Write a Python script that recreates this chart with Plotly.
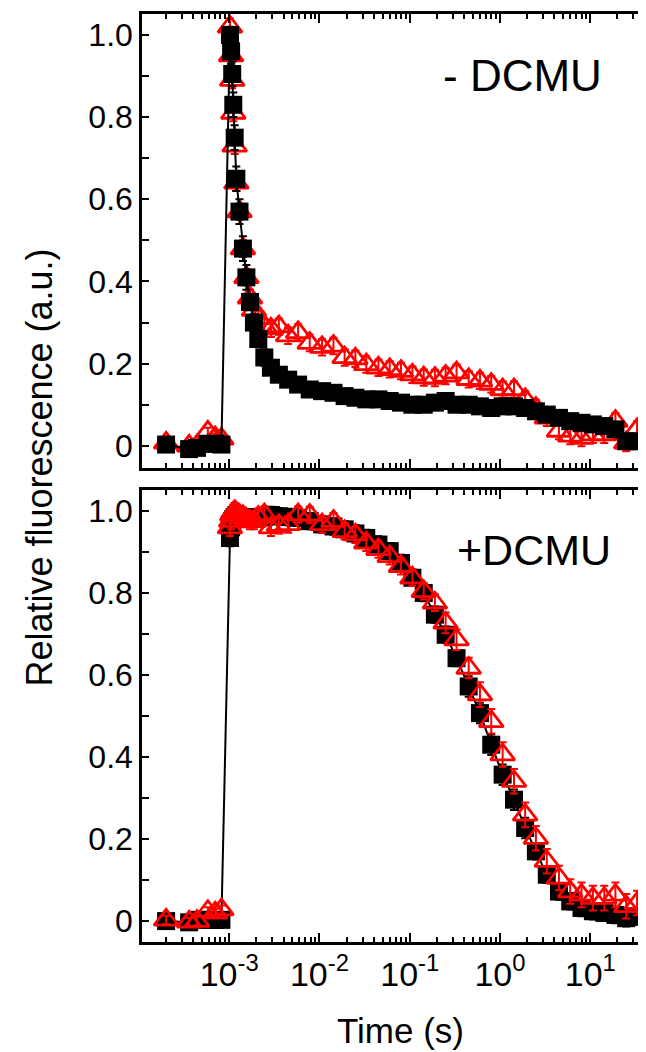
import plotly.graph_objects as go

# ---------------- data ----------------
time_s = [2.0e-4, 3.6e-4, 4.4e-4, 5.8e-4, 7.0e-4, 8.2e-4,
          1.02e-3, 1.05e-3, 1.08e-3, 1.11e-3, 1.15e-3, 1.20e-3, 1.30e-3, 1.42e-3, 1.55e-3,
          1.70e-3, 1.88e-3, 2.10e-3, 2.45e-3, 2.90e-3, 3.55e-3, 4.5e-3, 5.8e-3, 7.8e-3,
          1.07e-2, 1.43e-2, 1.9e-2, 2.5e-2, 3.3e-2, 4.5e-2, 6.0e-2, 8.0e-2,
          0.107, 0.143, 0.19, 0.25, 0.33, 0.45, 0.6, 0.8,
          1.07, 1.43, 1.9, 2.5, 3.3, 4.5, 6.0, 8.0,
          10.7, 14.3, 19, 25, 33]

# -DCMU panel
noDCMU_black = [0.003, -0.008, -0.005, 0.005, 0.005, 0.003,
                1.0, 0.96, 0.905, 0.83, 0.75, 0.65, 0.57, 0.48, 0.41,
                0.35, 0.30, 0.26, 0.215, 0.19, 0.173, 0.161, 0.149, 0.137,
                0.133, 0.129, 0.121, 0.117, 0.113, 0.113, 0.109, 0.105,
                0.100, 0.100, 0.105, 0.109, 0.100, 0.100, 0.096, 0.092,
                0.096, 0.096, 0.092, 0.084, 0.076, 0.068, 0.060, 0.056,
                0.052, 0.048, 0.040, 0.011, 0.011]
noDCMU_black_err = [0.01, 0.01, 0.01, 0.01, 0.01, 0.01,
                    0.02, 0.03, 0.03, 0.03, 0.03, 0.03, 0.03, 0.03, 0.03,
                    0.02, 0.02, 0.02, 0.02, 0.01, 0.01, 0.01, 0.01, 0.01,
                    0.01, 0.01, 0.01, 0.01, 0.01, 0.01, 0.01, 0.01,
                    0.01, 0.01, 0.01, 0.01, 0.01, 0.01, 0.01, 0.01,
                    0.01, 0.01, 0.01, 0.01, 0.01, 0.01, 0.01, 0.01,
                    0.01, 0.01, 0.01, 0.01, 0.01]
noDCMU_red = [0.007, 0.0, 0.0, 0.034, 0.02, 0.017,
              1.02, 0.95, 0.89, 0.81, 0.73, 0.64, 0.57, 0.48, 0.41,
              0.36, 0.33, 0.31, 0.29, 0.285, 0.29, 0.268, 0.276, 0.25,
              0.24, 0.243, 0.215, 0.212, 0.198, 0.19, 0.186, 0.182,
              0.173, 0.166, 0.165, 0.17, 0.178, 0.162, 0.158, 0.15,
              0.137, 0.137, 0.113, 0.092, 0.068, 0.036, 0.024, 0.019,
              0.027, 0.027, 0.06, 0.007, 0.04]
noDCMU_red_err = [0.01, 0.01, 0.01, 0.01, 0.01, 0.01,
                  0.02, 0.02, 0.02, 0.02, 0.02, 0.02, 0.02, 0.02, 0.02,
                  0.02, 0.02, 0.02, 0.02, 0.02, 0.02, 0.02, 0.02, 0.02,
                  0.02, 0.02, 0.02, 0.02, 0.02, 0.02, 0.02, 0.02,
                  0.02, 0.02, 0.02, 0.02, 0.02, 0.02, 0.02, 0.02,
                  0.02, 0.02, 0.02, 0.02, 0.02, 0.02, 0.02, 0.02,
                  0.02, 0.02, 0.02, 0.02, 0.02]

# +DCMU panel
DCMU_black = [0.0, -0.003, 0.003, 0.003, 0.003, 0.003,
              0.934, 0.96, 0.975, 0.98, 0.985, 0.99, 0.985, 0.985, 0.983,
              0.98, 0.983, 0.985, 0.985, 0.99, 0.987, 0.985, 0.983, 0.975,
              0.967, 0.962, 0.955, 0.945, 0.934, 0.918, 0.902, 0.873,
              0.837, 0.80, 0.747, 0.698, 0.641, 0.572, 0.507, 0.43,
              0.357, 0.296, 0.227, 0.17, 0.113, 0.072, 0.048, 0.032,
              0.024, 0.02, 0.015, 0.007, 0.011]
DCMU_black_err = [0.01, 0.01, 0.01, 0.01, 0.01, 0.01,
                  0.02, 0.02, 0.02, 0.02, 0.02, 0.02, 0.02, 0.02, 0.02,
                  0.02, 0.02, 0.02, 0.02, 0.02, 0.02, 0.02, 0.02, 0.02,
                  0.02, 0.02, 0.02, 0.02, 0.02, 0.02, 0.02, 0.02,
                  0.02, 0.02, 0.02, 0.02, 0.02, 0.025, 0.025, 0.025,
                  0.025, 0.025, 0.025, 0.02, 0.02, 0.02, 0.02, 0.02,
                  0.02, 0.02, 0.02, 0.02, 0.02]
DCMU_red = [0.003, -0.002, 0.0, 0.024, 0.02, 0.028,
            0.959, 0.975, 0.99, 0.995, 0.999, 0.995, 0.99, 0.987, 0.98,
            0.975, 0.975, 0.985, 0.991, 0.959, 0.965, 0.967, 0.991, 0.99,
            0.967, 0.975, 0.95, 0.942, 0.922, 0.906, 0.889, 0.865,
            0.837, 0.804, 0.776, 0.727, 0.686, 0.617, 0.552, 0.487,
            0.406, 0.341, 0.259, 0.202, 0.146, 0.105, 0.072, 0.064,
            0.056, 0.056, 0.064, 0.036, 0.044]
DCMU_red_err = [0.01, 0.01, 0.01, 0.01, 0.01, 0.01,
                0.02, 0.02, 0.02, 0.02, 0.02, 0.02, 0.02, 0.02, 0.02,
                0.02, 0.02, 0.02, 0.02, 0.02, 0.02, 0.02, 0.02, 0.02,
                0.02, 0.02, 0.02, 0.02, 0.02, 0.02, 0.02, 0.02,
                0.02, 0.02, 0.02, 0.025, 0.025, 0.025, 0.03, 0.03,
                0.03, 0.03, 0.03, 0.03, 0.03, 0.03, 0.03, 0.03,
                0.03, 0.03, 0.03, 0.03, 0.03]

x_tickvals = [1e-3, 1e-2, 1e-1, 1, 10]
x_ticktext = ["10<sup>-3</sup>", "10<sup>-2</sup>", "10<sup>-1</sup>", "10<sup>0</sup>", "10<sup>1</sup>"]
y_tickvals = [0, 0.2, 0.4, 0.6, 0.8, 1.0]
y_ticktext = ["0", "0.2", "0.4", "0.6", "0.8", "1.0"]
panel_labels = ["- DCMU", "+DCMU"]

# ---------------- style ----------------
FONT = "Liberation Sans, Arial, sans-serif"
RED = "#ff0000"
BLACK = "#000000"
W, H = 646, 1052
ML, MR, MT, MB = 134, 0, 6, 118

minor_x = [m * 10 ** e for e in range(-4, 2) for m in range(2, 10)]
minor_y = [0.1, 0.3, 0.5, 0.7, 0.9]

fig = go.Figure()

def black_trace(y, err, xa, ya):
    return go.Scatter(
        x=time_s, y=y, xaxis=xa, yaxis=ya, mode="lines+markers",
        line=dict(color=BLACK, width=2),
        marker=dict(symbol="square", size=18, color=BLACK),
        error_y=dict(type="data", array=err, color=BLACK, thickness=2, width=4),
        showlegend=False, cliponaxis=True)

def red_trace(y, err, xa, ya):
    return go.Scatter(
        x=time_s, y=y, xaxis=xa, yaxis=ya, mode="markers",
        marker=dict(symbol="triangle-up-open", size=21, color=RED,
                    line=dict(color=RED, width=2.8)),
        error_y=dict(type="data", array=err, color=RED, thickness=2, width=4),
        showlegend=False, cliponaxis=True)

# top panel (-DCMU): red below black
fig.add_trace(red_trace(noDCMU_red, noDCMU_red_err, "x", "y"))
fig.add_trace(black_trace(noDCMU_black, noDCMU_black_err, "x", "y"))
# bottom panel (+DCMU): black below red
fig.add_trace(black_trace(DCMU_black, DCMU_black_err, "x2", "y2"))
fig.add_trace(red_trace(DCMU_red, DCMU_red_err, "x2", "y2"))

xrange = [-3.966, 1.673]
common_x = dict(type="log", range=xrange, showgrid=False, zeroline=False,
                showline=True, linecolor=BLACK, linewidth=2.5, mirror="allticks",
                ticks="inside", ticklen=9, tickwidth=2, tickcolor=BLACK,
                tickvals=x_tickvals, ticktext=x_ticktext,
                minor=dict(tickvals=minor_x, ticks="inside", ticklen=5, tickwidth=2, tickcolor=BLACK),
                tickfont=dict(family=FONT, size=34, color=BLACK))
common_y = dict(showgrid=False, zeroline=False,
                showline=True, linecolor=BLACK, linewidth=2.5, mirror="allticks",
                ticks="inside", ticklen=7, tickwidth=2, tickcolor=BLACK,
                tickvals=y_tickvals, ticktext=y_ticktext,
                minor=dict(tickvals=minor_y, ticks="inside", ticklen=7, tickwidth=2, tickcolor=BLACK),
                tickfont=dict(family=FONT, size=32, color=BLACK))

fig.update_layout(
    width=W, height=H,
    margin=dict(l=ML, r=MR, t=MT, b=MB, pad=0),
    paper_bgcolor="white", plot_bgcolor="white",
    xaxis=dict(common_x, anchor="y", showticklabels=False, matches="x2"),
    yaxis=dict(common_y, domain=[0.5108, 1.0], range=[-0.054, 1.051], anchor="x"),
    xaxis2=dict(common_x, anchor="y2", showticklabels=True),
    yaxis2=dict(common_y, domain=[0.0, 0.4871], range=[-0.051, 1.051], anchor="x2"),
    font=dict(family=FONT, color=BLACK),
)

pw = W - ML - MR
ph = H - MT - MB
def px_x(x):
    return (x - ML) / pw
def px_y(y):
    return (H - MB - y) / ph

def label(text, cx, cy, size, angle=0):
    fig.add_annotation(text=text, xref="paper", yref="paper",
                       x=px_x(cx), y=px_y(cy), xanchor="center", yanchor="middle",
                       showarrow=False, textangle=angle,
                       font=dict(family=FONT, size=size, color=BLACK))

label(panel_labels[0], 517, 68, 44)
label(panel_labels[1], 528, 542, 43)
label("Relative fluorescence (a.u.)", 30, 460, 36, angle=-90)
label("Time (s)", 394, 1022, 35)

fig.write_html("out.html")
